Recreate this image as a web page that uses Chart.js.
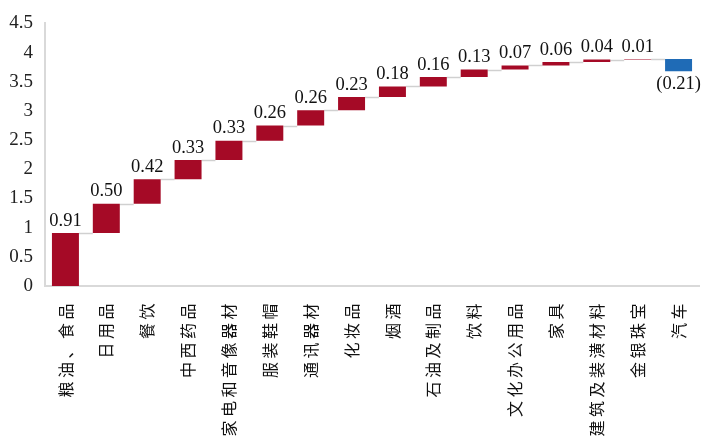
<!DOCTYPE html>
<html>
<head>
<meta charset="utf-8">
<script src="https://cdn.jsdelivr.net/npm/chart.js@4.4.1/dist/chart.umd.min.js"></script>
<style>
  html, body { margin: 0; padding: 0; background: #fff; }
  #wrap { width: 701px; height: 439px; position: relative; }
</style>
</head>
<body>
<div id="wrap"><canvas id="contribChart"></canvas></div>
<script>
// Categories and their contributions (percentage points)
const categories = ['粮油、食品', '日用品', '餐饮', '中西药品', '家电和音像器材', '服装鞋帽', '通讯器材',
    '化妆品', '烟酒', '石油及制品', '饮料', '文化办公用品', '家具', '建筑及装潢材料', '金银珠宝', '汽车'];
const changes = [0.91, 0.50, 0.42, 0.33, 0.33, 0.26, 0.26, 0.23, 0.18, 0.16, 0.13, 0.07, 0.06, 0.04, 0.01, -0.21];
const yTicks = [0, 0.5, 1, 1.5, 2, 2.5, 3, 3.5, 4, 4.5];

const RED = '#A50A26';
const BLUE = '#1F6BB6';

// Running total -> floating [start, end] bars
const ranges = [];
let running = 0;
changes.forEach(v => {
    ranges.push([Math.round(running * 100) / 100, Math.round((running + v) * 100) / 100]);
    running += v;
});

const fmt = v => v < 0 ? '(' + Math.abs(v).toFixed(2) + ')' : v.toFixed(2);

// Thin gray steps joining each bar to the next one
const connectorPlugin = {
    id: 'connectors',
    beforeDatasetsDraw(chart) {
        const meta = chart.getDatasetMeta(0);
        const yScale = chart.scales.y;
        const ctx = chart.ctx;
        ctx.save();
        ctx.strokeStyle = '#d0d0d0';
        ctx.lineWidth = 1.5;
        for (let i = 0; i < meta.data.length - 1; i++) {
            const a = meta.data[i], b = meta.data[i + 1];
            const y = Math.round(yScale.getPixelForValue(ranges[i][1])) + 0.5;
            ctx.beginPath();
            ctx.moveTo(a.x + a.width / 2, y);
            ctx.lineTo(b.x - b.width / 2, y);
            ctx.stroke();
        }
        ctx.restore();
    }
};

// Value labels above (or below, for negatives) each bar
const valueLabelPlugin = {
    id: 'valueLabels',
    afterDatasetsDraw(chart) {
        const meta = chart.getDatasetMeta(0);
        const ctx = chart.ctx;
        ctx.save();
        ctx.font = '18.5px "Liberation Serif", "Times New Roman", serif';
        ctx.fillStyle = '#111';
        ctx.textAlign = 'center';
        meta.data.forEach((bar, i) => {
            const v = changes[i];
            if (v >= 0) {
                ctx.textBaseline = 'bottom';
                ctx.fillText(fmt(v), bar.x, Math.min(bar.y, bar.base) - 3);
            } else {
                ctx.textBaseline = 'top';
                ctx.fillText(fmt(v), bar.x, Math.max(bar.y, bar.base) + 4);
            }
        });
        ctx.restore();
    }
};

// Spread out the vertical category labels a little
const spacedLabelsPlugin = {
    id: 'spacedLabels',
    beforeDraw(chart) {
        const xs = chart.scales.x;
        if (xs._spaced) return;
        const orig = xs.drawLabels.bind(xs);
        xs.drawLabels = function(area) {
            chart.ctx.save();
            chart.ctx.letterSpacing = '3.5px';
            orig(area);
            chart.ctx.restore();
        };
        xs._spaced = true;
    }
};

const ctx = document.getElementById('contribChart').getContext('2d');
const contribChart = new Chart(ctx, {
    type: 'bar',
    data: {
        labels: categories,
        datasets: [{
            data: ranges,
            backgroundColor: changes.map(v => v < 0 ? BLUE : RED),
            borderWidth: 0,
            barPercentage: 0.66,
            categoryPercentage: 1
        }]
    },
    options: {
        responsive: true,
        maintainAspectRatio: false,
        animation: false,
        layout: { padding: { top: 17, right: 2, left: 0, bottom: 0 } },
        plugins: {
            legend: { display: false },
            tooltip: { enabled: false }
        },
        scales: {
            x: {
                grid: { display: false, drawTicks: false },
                border: { color: '#d9d9d9', width: 2 },
                ticks: {
                    autoSkip: false,
                    minRotation: 90,
                    maxRotation: 90,
                    padding: 14,
                    color: '#111',
                    font: { family: '"Noto Sans CJK SC", sans-serif', size: 16 }
                },
                afterFit(scale) {
                    scale.height = 153;
                    scale.paddingLeft = 0;
                    scale.paddingRight = 0;
                }
            },
            y: {
                min: 0,
                max: 4.5,
                afterBuildTicks(scale) { scale.ticks = yTicks.map(v => ({ value: v })); },
                grid: { display: false, drawTicks: false },
                border: { color: '#d9d9d9', width: 2 },
                ticks: {
                    padding: 12,
                    color: '#222',
                    font: { family: '"Liberation Serif", "Times New Roman", serif', size: 19 },
                    callback: v => String(v)
                },
                afterFit(scale) { scale.width = 45; }
            }
        }
    },
    plugins: [connectorPlugin, valueLabelPlugin, spacedLabelsPlugin]
});
</script>
</body>
</html>
